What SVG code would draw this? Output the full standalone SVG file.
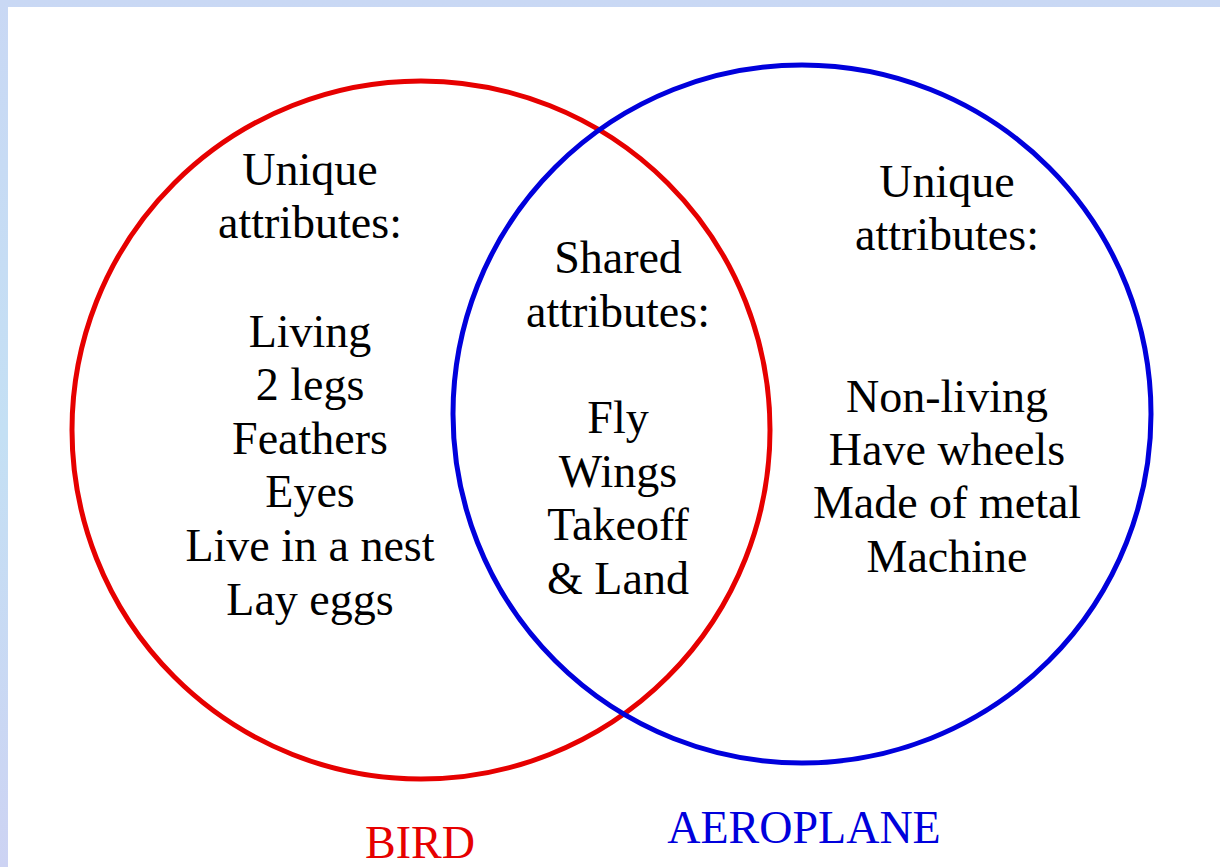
<svg xmlns="http://www.w3.org/2000/svg" width="1220" height="867" viewBox="0 0 1220 867">
<defs>
<linearGradient id="bg" x1="0" y1="0" x2="0" y2="1">
<stop offset="0" stop-color="#c9d8f4"/>
<stop offset="0.5" stop-color="#c4e0f4"/>
<stop offset="1" stop-color="#cdd3f3"/>
</linearGradient>
</defs>
<style>
.t{font-family:"Liberation Serif","Times New Roman",serif;font-size:46px;fill:#000;text-anchor:middle}
.c{fill:none;stroke-width:5}
</style>
<rect x="0" y="0" width="1220" height="867" fill="url(#bg)"/>
<rect x="8" y="7" width="1212" height="860" fill="#fff"/>
<g id="bird">
<circle class="c" cx="421" cy="430" r="349" stroke="#e60000"/>
<text class="t" x="310" y="185">Unique</text>
<text class="t" x="310" y="238">attributes:</text>
<text class="t" x="310" y="347">Living</text>
<text class="t" x="310" y="400">2 legs</text>
<text class="t" x="310" y="454">Feathers</text>
<text class="t" x="310" y="507">Eyes</text>
<text class="t" x="310" y="561">Live in a nest</text>
<text class="t" x="310" y="615">Lay eggs</text>
<text class="t" x="420" y="858" style="fill:#e60000">BIRD</text>
</g>
<g id="aeroplane">
<circle class="c" cx="802" cy="414" r="349" stroke="#0000dc"/>
<text class="t" x="947" y="197">Unique</text>
<text class="t" x="947" y="250">attributes:</text>
<text class="t" x="947" y="412">Non-living</text>
<text class="t" x="947" y="465">Have wheels</text>
<text class="t" x="947" y="518">Made of metal</text>
<text class="t" x="947" y="572">Machine</text>
<text class="t" x="804" y="843" style="fill:#0000dc">AEROPLANE</text>
</g>
<g id="shared">
<text class="t" x="618" y="273">Shared</text>
<text class="t" x="618" y="327">attributes:</text>
<text class="t" x="618" y="433">Fly</text>
<text class="t" x="618" y="487">Wings</text>
<text class="t" x="618" y="540">Takeoff</text>
<text class="t" x="618" y="594">&amp; Land</text>
</g>
<g id="connectors"></g>
</svg>
